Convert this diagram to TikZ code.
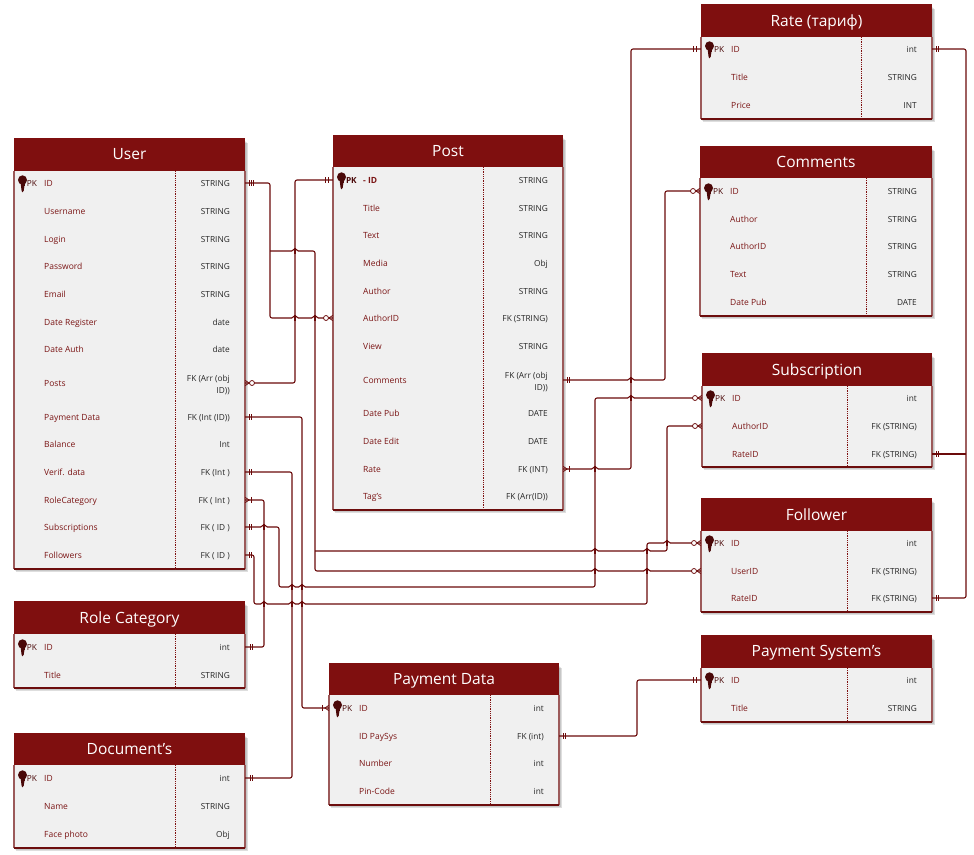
\documentclass[tikz,border=0pt]{standalone}
\usepackage{fontspec}
\setmainfont{Open Sans}
\definecolor{hdr}{HTML}{7F0F0F}
\definecolor{bodyc}{HTML}{F0F0F0}
\definecolor{edgec}{HTML}{9C5A5A}
\definecolor{linec}{HTML}{6B0A0A}
\definecolor{labc}{HTML}{7A1414}
\definecolor{typc}{HTML}{262626}
\definecolor{keyc}{HTML}{4A0808}
\tikzset{
  rowbox/.style={inner sep=0pt,minimum height=10pt,draw=none,fill=none},
  labeltxt/.style={inner sep=0pt,anchor=west,font=\fontsize{8.5}{12}\selectfont,text=labc,yshift=-1.5pt},
  typetxt/.style={inner sep=0pt,anchor=east,align=right,font=\fontsize{8.3}{12}\selectfont,text=typc,yshift=-1.5pt},
  pktxt/.style={inner sep=0pt,anchor=west,font=\fontsize{8.3}{12}\selectfont,text=keyc,yshift=-1.5pt},
  titletxt/.style={inner sep=0pt,anchor=center,font=\fontsize{15.5}{16}\selectfont,text=white,yshift=-1.6pt},
  conn/.style={draw=linec,line width=1.1pt,rounded corners=2pt},
  hopline/.style={draw=linec,line width=1.1pt},
  marker/.style={draw=linec,line width=0.75pt},
}
\newcommand\pkfont{}
\newcommand\evenstrut{\vphantom{Ag(}}
% #1 name #2 x1 #3 top #4 hdr bottom #5 x2 #6 bottom #7 divider #8 title #9 rows
\newcommand\ertable[9]{%
  \foreach \sft/\opc in {1/0.08,2/0.10,3/0.13}{
    \fill[black,opacity=\opc] ({#2+\sft-1},{#3+\sft+1}) rectangle ({#5+\sft},{#6+\sft});
  }
  \fill[bodyc] (#2,#4) rectangle (#5,#6);
  \draw[edgec,line width=1.1pt] (#2,#4) -- (#2,#6) (#5,#4) -- (#5,#6);
  \draw[hdr!85!black,line width=1.1pt] (#2,#6) -- (#5,#6);
  \fill[hdr] ({#2-0.5},{#3-0.7}) rectangle ({#5+0.3},#4);
  \draw[hdr,line width=0.8pt,densely dotted] (#7,#4) -- (#7,#6);
  \pgfmathsetmacro\tcx{(#2+#5)/2}
  \pgfmathsetmacro\twd{#5-#2}
  \pgfmathsetmacro\tlx{#2+30}
  \pgfmathsetmacro\trx{#5-15}
  \node[titletxt] (#1-title) at (\tcx,{(#3+#4)/2-0.5}) {\evenstrut #8};
  \foreach \rowy/\lb/\ty [count=\i] in {#9}{
    \node[rowbox,minimum width=\twd pt] (#1-\i) at (\tcx,\rowy) {};
    \node[labeltxt] (#1-\i-l) at (\tlx,\rowy) {\evenstrut\lb};
    \node[typetxt] (#1-\i-t) at (\trx,\rowy) {\evenstrut\ty};
  }
  \node[pktxt] (#1-pk) at ([xshift=13pt]#1-1.west) {\evenstrut\pkfont PK};
  \begin{scope}[shift={(#1-1.west)}]
    \fill[keyc] (8.7,-3) ellipse (4.5 and 4.7);
    \fill[keyc] (6.8,0) -- (11,0) -- (11,3) -- (10,3.8) -- (10.6,4.8) -- (10,5.6) -- (10,7.5) -- (8.8,9.3) -- (7.8,8) -- cycle;
  \end{scope}
}
% hop of a horizontal connector over a vertical one at (#1,#2)
\newcommand\hopat[2]{%
  \fill[white] ({#1-3.2},{#2-0.9}) rectangle ({#1+3.2},{#2+0.9});
  \draw[hopline] ({#1-3.2},#2) .. controls ({#1-1.6},#2) and ({#1-1.6},{#2-2.4}) .. (#1,{#2-2.4}) .. controls ({#1+1.6},{#2-2.4}) and ({#1+1.6},#2) .. ({#1+3.2},#2);
  \draw[hopline] (#1,{#2-3}) -- (#1,{#2+3});
}
% markers: #1 anchor, #2 direction (+1 right, -1 left)
\newcommand\mkbars[3][0]{\begin{scope}[shift={(#2)},xscale=#3]
  \draw[marker] (#1+3.8,-3) -- (#1+3.8,3) (#1+6.2,-3) -- (#1+6.2,3);\end{scope}}
\newcommand\mkocrow[2]{\begin{scope}[shift={(#1)},xscale=#2]
  \draw[marker] (0,-2.6) -- (4,0) -- (0,2.6);
  \draw[marker,fill=white] (6.8,0) circle (2.5);\end{scope}}
\newcommand\mkbarcrow[2]{\begin{scope}[shift={(#1)},xscale=#2]
  \draw[marker] (0,-2.6) -- (4,0) -- (0,2.6);
  \draw[marker] (6.5,-3.2) -- (6.5,3.2);\end{scope}}
\begin{document}
\begin{tikzpicture}[x=1pt,y=-1pt]
\useasboundingbox (0,0) rectangle (974,854);
\fill[white] (0,0) rectangle (974,854);

\ertable{user}{14}{139}{171}{245}{569}{175}{User}{183/ID/STRING,211/Username/STRING,239/Login/STRING,266/Password/STRING,294/Email/STRING,322/Date Register/date,349/Date Auth/date,383/Posts/{FK (Arr (obj\\ID))},417/Payment Data/FK (Int (ID)),444/Balance/Int,472/Verif. data/FK (Int ),500/RoleCategory/FK ( Int ),527/Subscriptions/FK ( ID ),555/Followers/FK ( ID )}
\renewcommand\pkfont{\bfseries}
\ertable{post}{333}{136}{167}{563}{510}{483}{Post}{180/\textbf{- ID}/STRING,208/Title/STRING,235/Text/STRING,263/Media/Obj,291/Author/STRING,318/AuthorID/FK (STRING),346/View/STRING,380/Comments/{FK (Arr (obj\\ID))},413/Date Pub/DATE,441/Date Edit/DATE,469/Rate/FK (INT),496/Tag's/FK (Arr(ID))}
\renewcommand\pkfont{}
\ertable{rate}{701}{5}{37}{932}{119}{861}{Rate (тариф)}{49/ID/int,77/Title/STRING,105/Price/INT}
\ertable{comm}{700}{147}{178}{932}{316}{866}{Comments}{191/ID/STRING,219/Author/STRING,246/AuthorID/STRING,274/Text/STRING,302/Date Pub/DATE}
\ertable{subs}{702}{354}{386}{932}{467}{847}{Subscription}{398/ID/int,426/AuthorID/FK (STRING),454/RateID/FK (STRING)}
\ertable{foll}{701}{499}{531}{932}{612}{847}{Follower}{543/ID/int,571/UserID/FK (STRING),598/RateID/FK (STRING)}
\ertable{pays}{701}{636}{668}{932}{722}{847}{Payment System's}{680/ID/int,708/Title/STRING}
\ertable{role}{14}{602}{634}{245}{688}{175}{Role Category}{647/ID/int,675/Title/STRING}
\ertable{docs}{14}{734}{765}{245}{848}{175}{Document's}{778/ID/int,806/Name/STRING,834/Face photo/Obj}
\ertable{paym}{329}{664}{695}{559}{805}{490}{Payment Data}{708/ID/int,736/ID PaySys/FK (int),763/Number/int,791/Pin-Code/int}

% connectors
\draw[conn] (user-1.east) -- (270,183) -- (270,318) -- (post-6.west);
\draw[conn] (270,251) -- (315,251) -- (315,571) -- (foll-2.west);
\draw[conn] (315,551) -- (667,551) -- (667,426) -- (subs-2.west);
\draw[conn] (user-8.east) -- (295,383) -- (295,180) -- (post-1.west);
\draw[conn] (user-9.east) -- (302,417) -- (302,708) -- (paym-1.west);
\draw[conn] (user-11.east) -- (292,472) -- (292,778) -- (docs-1.east);
\draw[conn] (user-12.east) -- (264,500) -- (264,647) -- (role-1.east);
\draw[conn] (user-13.east) -- (279,527) -- (279,587) -- (595,587) -- (595,398) -- (subs-1.west);
\draw[conn] (user-14.east) -- (254,555) -- (254,604) -- (647,604) -- (647,543) -- (foll-1.west);
\draw[conn] (post-8.east) -- (665,380) -- (665,191) -- (comm-1.west);
\draw[conn] (post-11.east) -- (631,469) -- (631,49) -- (rate-1.west);
\draw[conn] (rate-1.east) -- (966,49) -- (966,598) -- (foll-3.east);
\draw[conn] (subs-3.east) -- (966,454);
\draw[conn] (paym-2.east) -- (637,736) -- (637,680) -- (pays-1.west);

% hops where horizontal runs cross vertical ones
\hopat{295}{318}\hopat{315}{318}\hopat{295}{251}
\hopat{595}{571}\hopat{647}{571}\hopat{595}{551}\hopat{647}{551}
\hopat{264}{527}\hopat{292}{587}\hopat{302}{587}\hopat{631}{398}
\hopat{264}{604}\hopat{292}{604}\hopat{302}{604}\hopat{667}{543}
\hopat{631}{380}\hopat{595}{469}

% end markers
\mkbars{user-1.east}{1}
\mkbars[2.4]{user-1.east}{1}
\mkocrow{user-8.east}{1}
\mkbars{user-9.east}{1}
\mkbars{user-11.east}{1}
\mkbarcrow{user-12.east}{1}
\mkbars{user-13.east}{1}
\mkbars{user-14.east}{1}
\mkbars[1]{role-1.east}{1}
\mkbars[1]{docs-1.east}{1}
\mkbars[1]{post-1.west}{-1}
\mkocrow{post-6.west}{-1}
\mkbars{post-8.east}{1}
\mkbarcrow{post-11.east}{1}
\mkbarcrow{paym-1.west}{-1}
\mkbars{paym-2.east}{1}
\mkbars[1]{rate-1.west}{-1}
\mkbars{rate-1.east}{1}
\mkocrow{comm-1.west}{-1}
\mkocrow{subs-1.west}{-1}
\mkocrow{subs-2.west}{-1}
\mkbars{subs-3.east}{1}
\mkocrow{foll-1.west}{-1}
\mkocrow{foll-2.west}{-1}
\mkbars{foll-3.east}{1}
\mkbars[1]{pays-1.west}{-1}
\end{tikzpicture}
\end{document}
